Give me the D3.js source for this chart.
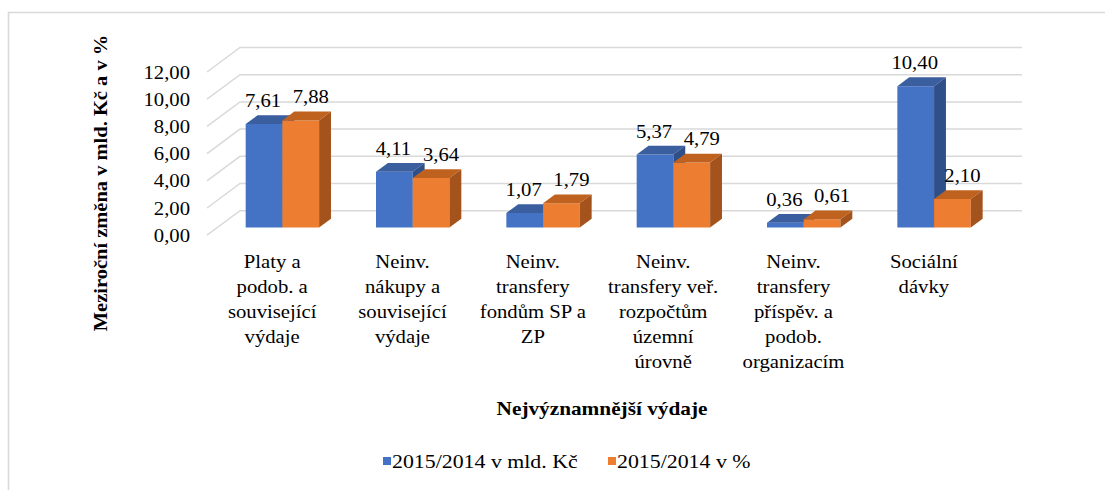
<!DOCTYPE html>
<html>
<head>
<meta charset="utf-8">
<script src="https://cdn.jsdelivr.net/npm/d3@7"></script>
<style>
  html, body { margin: 0; padding: 0; background: #fff; }
  svg text { font-family: "Liberation Serif", "Times New Roman", Times, serif; }
</style>
</head>
<body>
<div id="chart"></div>
<script>
// data
const categories = ["c1", "c2", "c3", "c4", "c5", "c6"];
const categoryLines = [
  ["Platy a", "podob. a", "související", "výdaje"],
  ["Neinv.", "nákupy a", "související", "výdaje"],
  ["Neinv.", "transfery", "fondům SP a", "ZP"],
  ["Neinv.", "transfery veř.", "rozpočtům", "územní", "úrovně"],
  ["Neinv.", "transfery", "příspěv. a", "podob.", "organizacím"],
  ["Sociální", "dávky"]
];
const seriesNames = ["2015/2014 v mld. Kč", "2015/2014 v %"];
const valuesMld = [7.61, 4.11, 1.07, 5.37, 0.36, 10.40];
const valuesPct = [7.88, 3.64, 1.79, 4.79, 0.61, 2.10];
const yTicks = [0, 2, 4, 6, 8, 10, 12];

(() => {
  const width = 1105;
  const height = 490;
  const stretch = 1.15; // text in the picture is a bit wider than tall
  const serif = '"Liberation Serif", "Times New Roman", Times, serif';

  const colors = [
    { front: "#4472C4", top: "#3A5E9E", side: "#2F4F88" },
    { front: "#ED7D31", top: "#C0621F", side: "#A4531C" }
  ];
  // labels of the two series are pushed apart a little, like in the original
  const labelShift = [-1, 10];

  // back wall of the 3d plot, floor depth goes towards the viewer
  const wall = { left: 240, right: 1022 };
  const depth = { dx: -33, dy: 24.5 };
  const barT = { front: 0.69, back: 0.33 };

  const svg = d3
    .select("#chart")
    .append("svg")
    .attr("width", width)
    .attr("height", height)
    .style("display", "block");

  // frame
  svg
    .append("path")
    .attr("d", `M8.5,${height} V12.5 H${width}`)
    .attr("fill", "none")
    .attr("stroke", "#d9d9d9")
    .attr("stroke-width", 1.6);

  const y = d3.scaleLinear().domain([0, 12]).range([210.7, 47.5]);

  const x0 = d3
    .scaleBand()
    .domain(categories)
    .range([wall.left, wall.right]);

  const x1 = d3
    .scaleBand()
    .domain(seriesNames)
    .range([0, x0.bandwidth()])
    .paddingOuter(0.775);

  const fmt = (v) => d3.format(".2f")(v).replace(".", ",");

  const addText = (g, str, px, py, opts = {}) => {
    return g
      .append("text")
      .attr("transform", `translate(${px},${py}) scale(${opts.sx || stretch},1)`)
      .attr("text-anchor", opts.anchor || "middle")
      .attr("font-family", serif)
      .attr("font-size", opts.size || 18)
      .attr("font-weight", opts.weight || "normal")
      .attr("fill", "#000")
      .text(str);
  };

  // gridlines: diagonal on the left wall + horizontal on the back wall
  svg
    .append("g")
    .selectAll("path")
    .data(yTicks)
    .join("path")
    .attr(
      "d",
      (d) =>
        `M${wall.left + depth.dx},${y(d) + depth.dy} L${wall.left},${y(d)} H${wall.right}`
    )
    .attr("fill", "none")
    .attr("stroke", "#d9d9d9")
    .attr("stroke-width", 1.5);

  // y tick labels at the front edge
  const yAxisG = svg.append("g");
  yTicks.forEach((t) => {
    addText(yAxisG, fmt(t), 190, y(t) + depth.dy + 6.5, { anchor: "end" });
  });

  // bars
  const fx = depth.dx * barT.front;
  const fy = depth.dy * barT.front;
  const bdx = depth.dx * (barT.back - barT.front);
  const bdy = depth.dy * (barT.back - barT.front);
  const series = [valuesMld, valuesPct];

  const barsG = svg.append("g");
  const labelsG = svg.append("g");

  categories.forEach((c, i) => {
    series.forEach((vals, s) => {
      const v = vals[i];
      const xl = x0(c) + x1(seriesNames[s]) + fx;
      const xr = xl + x1.bandwidth();
      const yb = y(0) + fy;
      const yt = y(v) + fy;
      const col = colors[s];
      const g = barsG.append("g");
      g.append("polygon")
        .attr("points", [[xl, yt], [xr, yt], [xr, yb], [xl, yb]].join(" "))
        .attr("fill", col.front);
      g.append("polygon")
        .attr(
          "points",
          [[xl, yt], [xl + bdx, yt + bdy], [xr + bdx, yt + bdy], [xr, yt]].join(" ")
        )
        .attr("fill", col.top);
      g.append("polygon")
        .attr(
          "points",
          [[xr, yt], [xr + bdx, yt + bdy], [xr + bdx, yb + bdy], [xr, yb]].join(" ")
        )
        .attr("fill", col.side);

      addText(labelsG, fmt(v), (xl + xr) / 2 + labelShift[s], yt - 17, { size: 18 });
    });
  });

  // category labels, centered on the front edge of the floor
  const catG = svg.append("g");
  categories.forEach((c, i) => {
    const cx = x0(c) + x0.bandwidth() / 2 + depth.dx;
    categoryLines[i].forEach((line, k) => {
      addText(catG, line, cx, 268 + k * 25, { size: 18 });
    });
  });

  // axis titles
  svg
    .append("text")
    .attr("transform", `translate(107,183) rotate(-90) scale(1,${1 / stretch})`)
    .attr("text-anchor", "middle")
    .attr("font-family", serif)
    .attr("font-size", 20.5)
    .attr("font-weight", "bold")
    .text("Meziroční změna v mld. Kč a v %");

  addText(svg, "Nejvýznamnější výdaje", 602, 415, { size: 18.5, weight: "bold" });

  // legend
  const legend = [
    { name: seriesNames[0], color: colors[0].front, x: 383 },
    { name: seriesNames[1], color: colors[1].front, x: 608 }
  ];
  const legG = svg.append("g");
  legend.forEach((l) => {
    legG
      .append("rect")
      .attr("x", l.x)
      .attr("y", 457)
      .attr("width", 8)
      .attr("height", 8)
      .attr("fill", l.color);
    addText(legG, l.name, l.x + 9, 467.5, { size: 19, anchor: "start" });
  });
})();
</script>
</body>
</html>
